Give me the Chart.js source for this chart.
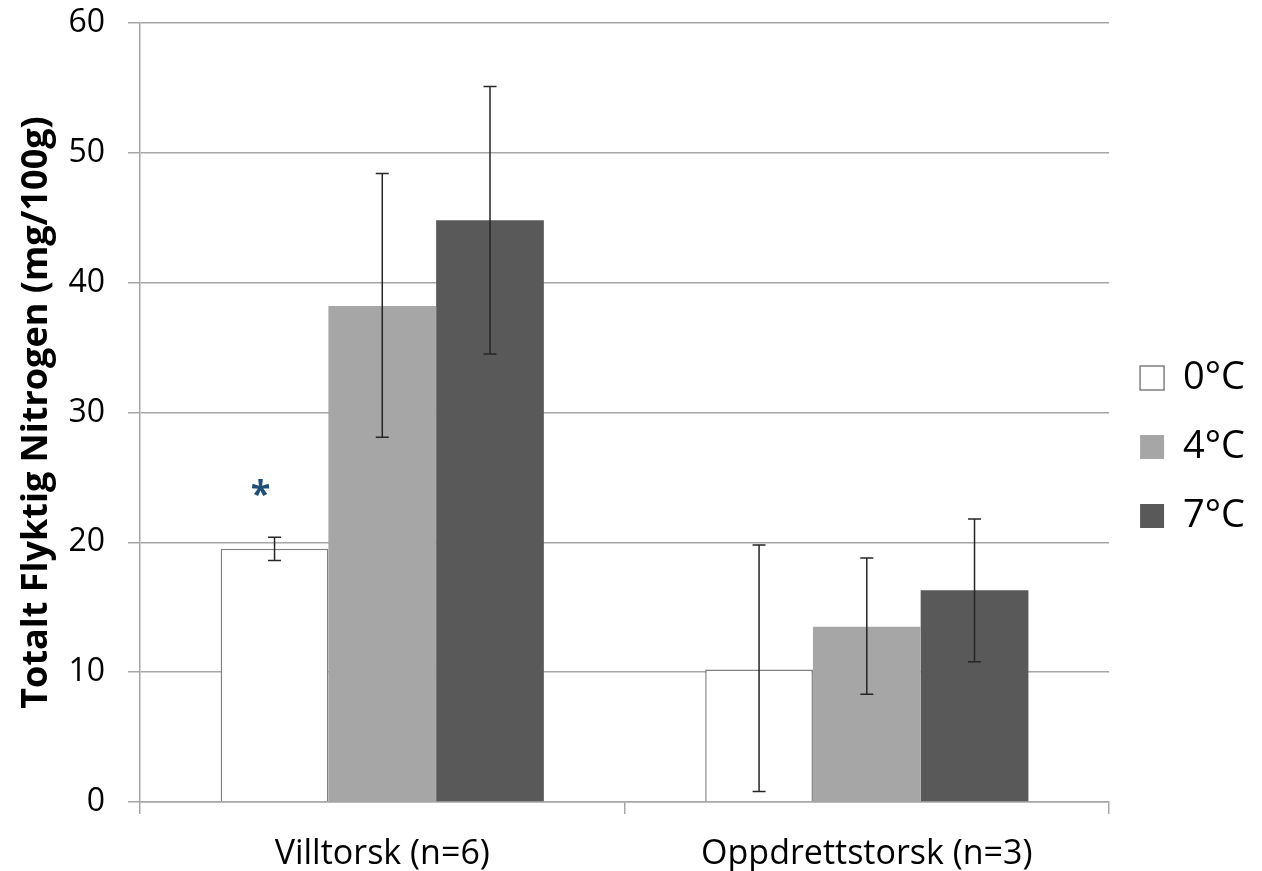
<!DOCTYPE html>
<html>
<head>
  <title>Totalt Flyktig Nitrogen</title>
  <script src="https://cdn.jsdelivr.net/npm/chart.js"></script>
  <style>
    body { margin: 0; background: #fff; }
    #wrap { width: 1262px; height: 871px; }
  </style>
</head>
<body>
  <div id="wrap"><canvas id="tvnChart"></canvas></div>
  <script>
    // data
    var groups = ['Villtorsk (n=6)', 'Oppdrettstorsk (n=3)'];
    var seriesNames = ['0°C', '4°C', '7°C'];
    var means0 = [19.5, 10.2];
    var means4 = [38.2, 13.5];
    var means7 = [44.8, 16.3];
    var low0 = [18.6, 0.8];
    var high0 = [20.4, 19.8];
    var low4 = [28.1, 8.3];
    var high4 = [48.4, 18.8];
    var low7 = [34.5, 10.8];
    var high7 = [55.1, 21.8];
    var yTicks = [0, 10, 20, 30, 40, 50, 60];
    // significance mark: series index, group index, value
    var starMark = { series: 0, group: 0, value: 24, text: '*' };

    var lows = [low0, low4, low7];
    var highs = [high0, high4, high7];

    var errorBars = {
      id: 'errorBars',
      afterDatasetsDraw: function(chart) {
        var ctx = chart.ctx;
        var yScale = chart.scales.y;
        ctx.save();
        ctx.strokeStyle = '#262626';
        ctx.lineWidth = 1.5;
        chart.data.datasets.forEach(function(ds, di) {
          var meta = chart.getDatasetMeta(di);
          meta.data.forEach(function(bar, i) {
            var x = bar.x;
            var yLo = yScale.getPixelForValue(lows[di][i]);
            var yHi = yScale.getPixelForValue(highs[di][i]);
            ctx.beginPath();
            ctx.moveTo(x, yLo); ctx.lineTo(x, yHi);
            ctx.moveTo(x - 6.5, yLo); ctx.lineTo(x + 6.5, yLo);
            ctx.moveTo(x - 6.5, yHi); ctx.lineTo(x + 6.5, yHi);
            ctx.stroke();
          });
        });
        // asterisk, sits a bit left of the bar centre
        var bar = chart.getDatasetMeta(starMark.series).data[starMark.group];
        ctx.fillStyle = '#1f4e79';
        ctx.font = 'bold 36px "Open Sans"';
        ctx.textAlign = 'center';
        ctx.textBaseline = 'middle';
        ctx.fillText(starMark.text, bar.x - 14, yScale.getPixelForValue(starMark.value) + 5);
        ctx.restore();
      }
    };

    var ctx = document.getElementById('tvnChart').getContext('2d');
    new Chart(ctx, {
      type: 'bar',
      data: {
        labels: groups,
        datasets: [
          { label: seriesNames[0], data: means0, backgroundColor: '#ffffff', borderColor: '#808080', borderWidth: 1.5 },
          { label: seriesNames[1], data: means4, backgroundColor: '#a6a6a6', borderColor: '#a6a6a6', borderWidth: 0 },
          { label: seriesNames[2], data: means7, backgroundColor: '#595959', borderColor: '#595959', borderWidth: 0 }
        ]
      },
      options: {
        responsive: true,
        maintainAspectRatio: false,
        animation: false,
        categoryPercentage: 0.667,
        barPercentage: 1.0,
        layout: { padding: { top: 23, right: 7, bottom: 0, left: 13 } },
        plugins: {
          tooltip: { enabled: false },
          legend: {
            position: 'right',
            labels: {
              color: '#000',
              font: { family: '"Open Sans"', size: 38 },
              boxWidth: 24,
              boxHeight: 24,
              padding: 31
            }
          }
        },
        scales: {
          x: {
            afterFit: function(scale) {
              scale.height = 69;
            },
            grid: {
              offset: true,
              drawOnChartArea: false,
              drawTicks: true,
              tickLength: 12,
              color: '#a6a6a6',
              lineWidth: 1.5
            },
            border: { color: '#a6a6a6', width: 1.5 },
            ticks: {
              color: '#000',
              font: { family: '"Open Sans"', size: 34 },
              padding: 20
            }
          },
          y: {
            min: 0,
            max: 60,
            afterBuildTicks: function(scale) {
              scale.ticks = yTicks.map(function(v) { return { value: v }; });
            },
            afterFit: function(scale) {
              scale.paddingTop = 0;
              scale.width = 127;
            },
            grid: {
              color: '#a6a6a6',
              lineWidth: 1.5,
              tickLength: 12
            },
            border: { color: '#a6a6a6', width: 1.5 },
            ticks: {
              color: '#000',
              font: { family: '"Open Sans"', size: 32 },
              padding: 23
            },
            title: {
              display: true,
              text: 'Totalt Flyktig Nitrogen (mg/100g)',
              color: '#000',
              font: { family: '"Open Sans"', size: 36, weight: 'bold' },
              padding: { top: 2, bottom: 12 }
            }
          }
        }
      },
      plugins: [errorBars]
    });
  </script>
</body>
</html>
